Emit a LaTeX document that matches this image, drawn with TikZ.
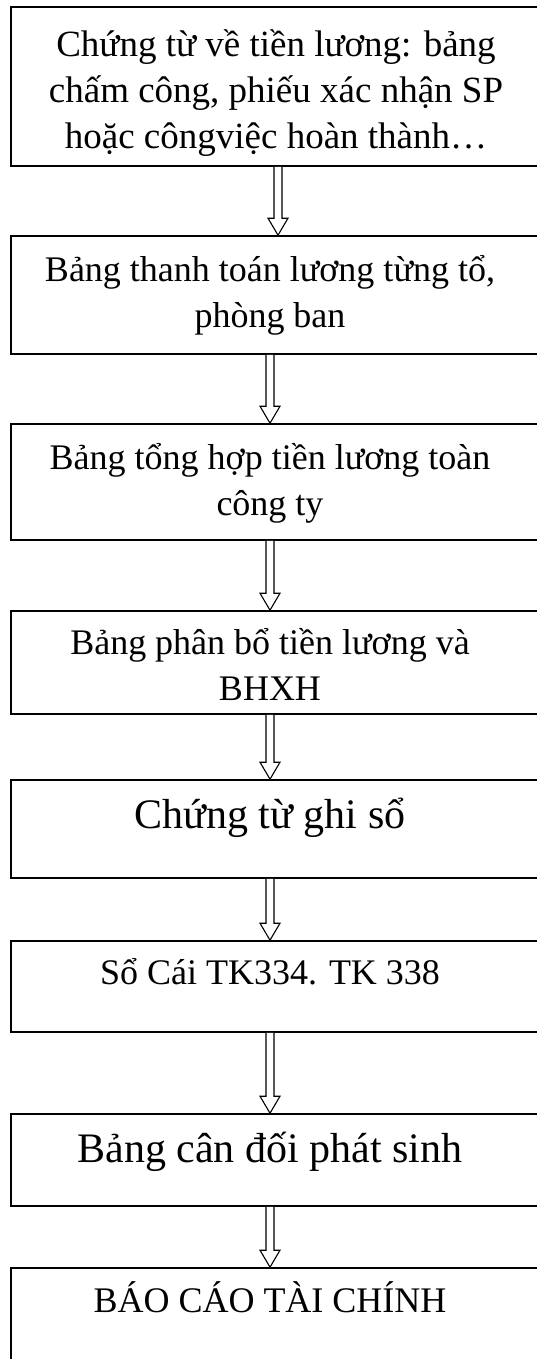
\documentclass[tikz,border=0pt]{standalone}
\usepackage{fontspec}
\setmainfont{Liberation Serif}
\usetikzlibrary{calc}

% hollow block arrow from the bottom of one box to the top of the next
\newcommand\flowarrow[3]{%
  \draw[arrowline]
    ($(#1.south)+(#3-4,0)$) -- ($(#2.north)+(#3-4,-17)$)
    -- ($(#2.north)+(#3-10,-17)$) -- ($(#2.north)+(#3,0)$)
    -- ($(#2.north)+(#3+10,-17)$) -- ($(#2.north)+(#3+4,-17)$)
    -- ($(#1.south)+(#3+4,0)$);}

\begin{document}
\begin{tikzpicture}[x=1pt,y=-1pt,
  stepbox/.style={draw=black, line width=1.6pt, rectangle, inner sep=0pt,
    minimum width=534pt, fill=white},
  arrowline/.style={draw=black, line width=1.1pt, fill=white, line join=miter},
  label/.style={anchor=base, inner sep=0pt},
  normaltext/.style={font=\fontsize{36}{46}\selectfont},
  bigtext/.style={font=\fontsize{42}{46}\selectfont}]
\useasboundingbox (0,0) rectangle (537,1359);
\clip (0,0) rectangle (537,1359);
\fill[white] (0,0) rectangle (537,1359);

% boxes of the flow
\node[stepbox, minimum height=159pt] (b1) at (278,86.5) {};
\node[stepbox, minimum height=118pt] (b2) at (278,295) {};
\node[stepbox, minimum height=116pt] (b3) at (278,482) {};
\node[stepbox, minimum height=103pt] (b4) at (278,662.5) {};
\node[stepbox, minimum height=98pt]  (b5) at (278,829) {};
\node[stepbox, minimum height=91pt]  (b6) at (278,986.5) {};
\node[stepbox, minimum height=92pt]  (b7) at (278,1160) {};
\node[stepbox, minimum height=112pt] (b8) at (278,1324) {};

% box texts
\node[label, font=\fontsize{37}{46}\selectfont] (t1) at ([xshift=-2pt,yshift=-50pt]b1.north)
  {\parbox[t]{530pt}{\centering Chứng từ về tiền lương: bảng\\chấm công, phiếu xác nhận SP\\hoặc côngviệc hoàn thành…}};
\node[label, normaltext] (t2) at ([xshift=-8pt,yshift=-46pt]b2.north)
  {\parbox[t]{530pt}{\centering Bảng thanh toán lương từng tổ,\\phòng ban}};
\node[label, normaltext] (t3) at ([xshift=-8pt,yshift=-46pt]b3.north)
  {\parbox[t]{530pt}{\centering Bảng tổng hợp tiền lương toàn\\công ty}};
\node[label, normaltext] (t4) at ([xshift=-8pt,yshift=-44pt]b4.north)
  {\parbox[t]{530pt}{\centering Bảng phân bổ tiền lương và\\BHXH}};
\node[label, bigtext] (t5) at ([xshift=-8pt,yshift=-49pt]b5.north) {Chứng từ ghi sổ};
\node[label, normaltext] (t6) at ([xshift=-8pt,yshift=-44pt]b6.north) {Sổ Cái TK334. TK 338};
\node[label, bigtext] (t7) at ([xshift=-8pt,yshift=-49pt]b7.north) {Bảng cân đối phát sinh};
\node[label, normaltext] (t8) at ([xshift=-8pt,yshift=-45pt]b8.north) {BÁO CÁO TÀI CHÍNH};

% connectors
\flowarrow{b1}{b2}{0}
\flowarrow{b2}{b3}{-8}
\flowarrow{b3}{b4}{-8}
\flowarrow{b4}{b5}{-8}
\flowarrow{b5}{b6}{-8}
\flowarrow{b6}{b7}{-8}
\flowarrow{b7}{b8}{-8}
\end{tikzpicture}
\end{document}
